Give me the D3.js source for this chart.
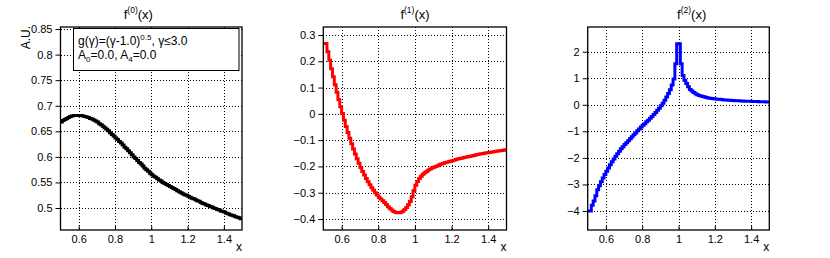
<!DOCTYPE html>
<html>
<head>
<meta charset="utf-8">
<script src="https://cdn.jsdelivr.net/npm/d3@7"></script>
<style>
  body { margin: 0; background: #fff; }
  svg { display: block; font-family: "Liberation Sans", Arial, sans-serif; }
</style>
</head>
<body>
<svg width="830" height="258"></svg>
<script>
// histogram binning: 100 bins of 0.01 from 0.5 to 1.5
var xMin = 0.5, binWidth = 0.01

var f0 = [0.668,0.671,0.673,0.675,0.677,0.679,0.680,0.681,0.681,0.681,
          0.681,0.681,0.680,0.679,0.678,0.677,0.675,0.674,0.672,0.670,
          0.668,0.665,0.663,0.660,0.657,0.654,0.651,0.647,0.644,0.641,
          0.637,0.634,0.630,0.627,0.623,0.619,0.616,0.612,0.608,0.604,
          0.600,0.597,0.593,0.589,0.586,0.582,0.578,0.575,0.572,0.568,
          0.565,0.562,0.560,0.557,0.555,0.553,0.550,0.548,0.546,0.544,
          0.542,0.540,0.538,0.536,0.534,0.532,0.530,0.528,0.526,0.525,
          0.523,0.521,0.519,0.518,0.516,0.514,0.513,0.511,0.509,0.508,
          0.506,0.505,0.503,0.502,0.500,0.499,0.497,0.496,0.494,0.493,
          0.492,0.490,0.489,0.487,0.486,0.485,0.483,0.482,0.481,0.479]

var f1 = [0.268,0.268,0.236,0.204,0.172,0.141,0.111,0.082,0.054,0.027,
          0.001,-0.024,-0.048,-0.071,-0.093,-0.114,-0.134,-0.153,-0.171,-0.188,
          -0.204,-0.219,-0.233,-0.246,-0.258,-0.270,-0.281,-0.291,-0.300,-0.309,
          -0.317,-0.324,-0.331,-0.337,-0.345,-0.353,-0.360,-0.366,-0.371,-0.374,
          -0.376,-0.376,-0.374,-0.370,-0.364,-0.356,-0.346,-0.333,-0.315,-0.292,
          -0.272,-0.257,-0.246,-0.237,-0.230,-0.224,-0.219,-0.214,-0.210,-0.206,
          -0.203,-0.200,-0.197,-0.194,-0.191,-0.189,-0.186,-0.184,-0.182,-0.180,
          -0.178,-0.176,-0.174,-0.172,-0.170,-0.169,-0.167,-0.165,-0.164,-0.162,
          -0.161,-0.159,-0.158,-0.156,-0.155,-0.153,-0.152,-0.151,-0.149,-0.148,
          -0.147,-0.146,-0.145,-0.143,-0.142,-0.141,-0.140,-0.139,-0.138,-0.137]

var f2 = [-4.00,-4.00,-3.78,-3.62,-3.43,-3.20,-3.05,-2.90,-2.76,-2.63,
          -2.50,-2.38,-2.26,-2.15,-2.04,-1.94,-1.84,-1.75,-1.66,-1.58,
          -1.50,-1.43,-1.35,-1.28,-1.20,-1.13,-1.06,-0.98,-0.91,-0.84,
          -0.77,-0.71,-0.64,-0.58,-0.51,-0.44,-0.37,-0.29,-0.21,-0.13,
          -0.04,0.06,0.17,0.29,0.43,0.57,0.75,0.97,1.55,2.30,
          2.30,1.55,1.10,0.92,0.80,0.68,0.58,0.52,0.46,0.42,
          0.38,0.35,0.33,0.31,0.29,0.27,0.26,0.25,0.24,0.23,
          0.22,0.21,0.205,0.20,0.19,0.185,0.18,0.175,0.17,0.165,
          0.16,0.155,0.15,0.148,0.145,0.142,0.138,0.135,0.132,0.13,
          0.127,0.125,0.122,0.12,0.117,0.115,0.112,0.11,0.108,0.105]

var xTicks = [0.6, 0.8, 1, 1.2, 1.4]
var yTicks0 = [0.5, 0.55, 0.6, 0.65, 0.7, 0.75, 0.8, 0.85]
var yTicks1 = [-0.4, -0.3, -0.2, -0.1, 0, 0.1, 0.2, 0.3]
var yTicks2 = [-4, -3, -2, -1, 0, 1, 2]

var svg = d3.select("svg")

function fmt(v) {
  return v < 0 ? "\u2212" + String(Math.abs(v)) : String(v)
}

function drawPanel(p) {
  var xScale = d3.scaleLinear().domain([0.5, 1.5]).range([p.left, p.right])
  var yScale = d3.scaleLinear().domain(p.ydom).range([230, 27])
  var g = svg.append("g")

  g.append("clipPath").attr("id", "clip" + p.id)
    .append("rect")
    .attr("x", p.left).attr("y", 27)
    .attr("width", p.right - p.left).attr("height", 203)

  // dotted grid
  g.selectAll("line.gx").data(xTicks).enter().append("line")
    .attr("x1", d => Math.round(xScale(d)) + 0.5).attr("x2", d => Math.round(xScale(d)) + 0.5)
    .attr("y1", 27).attr("y2", 230)
    .attr("stroke", "#000").attr("stroke-width", 1)
    .attr("stroke-dasharray", "1,2")
    .attr("shape-rendering", "crispEdges")
  g.selectAll("line.gy").data(p.yticks).enter().append("line")
    .attr("y1", d => Math.round(yScale(d)) + 0.5).attr("y2", d => Math.round(yScale(d)) + 0.5)
    .attr("x1", p.left).attr("x2", p.right)
    .attr("stroke", "#000").attr("stroke-width", 1)
    .attr("stroke-dasharray", "1,2")
    .attr("shape-rendering", "crispEdges")

  // histogram outline
  var pts = []
  p.values.forEach((v, i) => {
    var lo = xMin + i * binWidth
    pts.push([lo, v])
    pts.push([lo + binWidth, v])
  })
  var line = d3.line().x(d => xScale(d[0])).y(d => yScale(d[1]))
  g.append("path")
    .attr("d", line(pts))
    .attr("clip-path", "url(#clip" + p.id + ")")
    .attr("fill", "none")
    .attr("stroke", p.color)
    .attr("stroke-width", 3)
    .attr("stroke-linejoin", "miter")

  var yAxis = d3.axisLeft(yScale).tickValues(p.yticks).tickSize(5).tickPadding(3).tickFormat(fmt)
  var ya = g.append("g").attr("transform", "translate(" + p.left + ",0)").call(yAxis)
  ya.select(".domain").remove()
  ya.selectAll("text").attr("font-size", 11).attr("font-family", "Liberation Sans, Arial, sans-serif").attr("fill", "#000")

  var xAxis = d3.axisBottom(xScale).tickValues(xTicks).tickSize(-4).tickPadding(5).tickFormat(fmt)
  var xa = g.append("g").attr("transform", "translate(0,230)").call(xAxis)
  xa.select(".domain").remove()
  xa.selectAll("text").attr("font-size", 11).attr("font-family", "Liberation Sans, Arial, sans-serif").attr("fill", "#000")

  g.append("rect")
    .attr("x", p.left).attr("y", 27)
    .attr("width", p.right - p.left).attr("height", 203)
    .attr("fill", "none").attr("stroke", "#000").attr("stroke-width", 1.3)

  g.append("text")
    .attr("x", p.right).attr("y", 251)
    .attr("text-anchor", "end").attr("font-size", 12)
    .text("x")

  var t = g.append("text")
    .attr("x", p.center).attr("y", 19)
    .attr("text-anchor", "middle").attr("font-size", 13)
  t.append("tspan").text("f")
  t.append("tspan").attr("dy", -6).attr("font-size", 8.5).text("(" + p.id + ")")
  t.append("tspan").attr("dy", 6).text("(x)")
}

drawPanel({id: 0, left: 60.5, right: 242, center: 138.3, ydom: [0.457, 0.854], yticks: yTicks0, values: f0, color: "#000"})
drawPanel({id: 1, left: 323.3, right: 506.5, center: 415, ydom: [-0.4418, 0.3304], yticks: yTicks1, values: f1, color: "#ff0000"})
drawPanel({id: 2, left: 587.7, right: 769.3, center: 691.7, ydom: [-4.716, 2.93], yticks: yTicks2, values: f2, color: "#0000ff"})

// y-axis title of first pad
svg.append("text")
  .attr("transform", "translate(30,26) rotate(-90)")
  .attr("text-anchor", "end").attr("font-size", 12)
  .text("A.U.")

// legend box
var leg = svg.append("g")
leg.append("rect")
  .attr("x", 73.5).attr("y", 28.5).attr("width", 165.5).attr("height", 42)
  .attr("fill", "#fff").attr("stroke", "#000").attr("stroke-width", 1)
var l1 = leg.append("text").attr("x", 78).attr("y", 45).attr("font-size", 12)
l1.append("tspan").text("g(\u03b3)=(\u03b3-1.0)")
l1.append("tspan").attr("dy", -5).attr("font-size", 8).text("0.5")
l1.append("tspan").attr("dy", 5).text(", \u03b3\u22643.0")
var l2 = leg.append("text").attr("x", 78).attr("y", 59).attr("font-size", 12)
l2.append("tspan").text("A")
l2.append("tspan").attr("dy", 3).attr("font-size", 8).text("0")
l2.append("tspan").attr("dy", -3).text("=0.0, A")
l2.append("tspan").attr("dy", 3).attr("font-size", 8).text("4")
l2.append("tspan").attr("dy", -3).text("=0.0")
</script>
</body>
</html>
